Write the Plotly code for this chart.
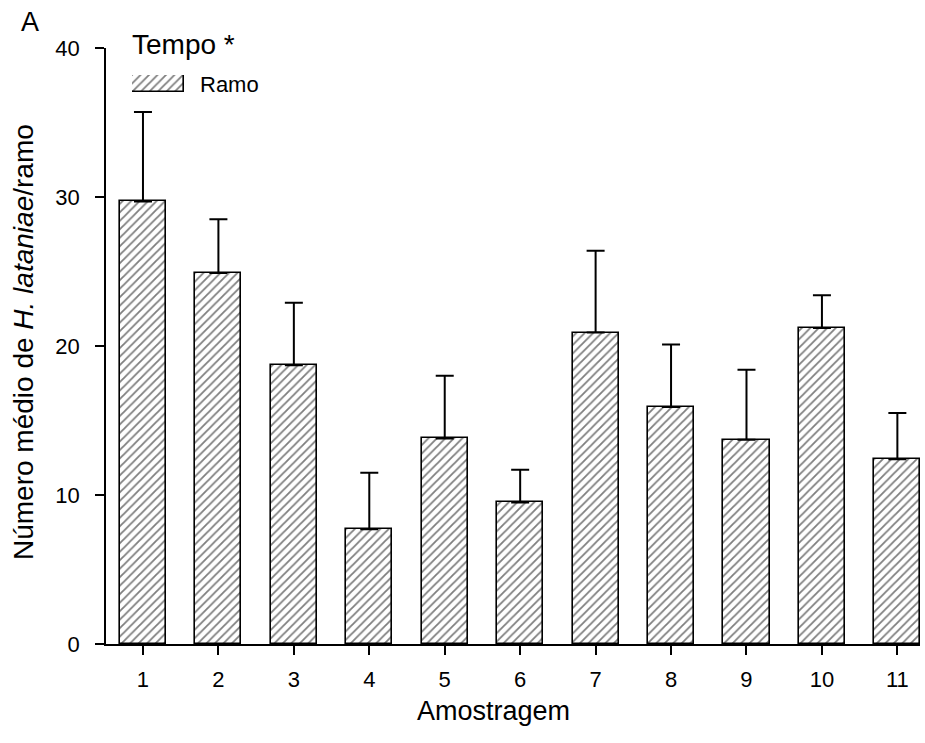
import plotly.graph_objects as go

# Sampling rounds and mean counts (with upper standard error)
amostragem = [1, 2, 3, 4, 5, 6, 7, 8, 9, 10, 11]
media = [29.7, 24.9, 18.7, 7.7, 13.8, 9.5, 20.9, 15.9, 13.7, 21.2, 12.4]
erro = [6.0, 3.6, 4.2, 3.8, 4.2, 2.2, 5.5, 4.2, 4.7, 2.2, 3.1]
y_ticks = [0, 10, 20, 30, 40]

FONT = "Liberation Sans, Arial, sans-serif"
W, H = 925, 743
ML, MR, MT, MB = 106, 5, 48, 99
PW, PH = W - ML - MR, H - MT - MB

hatch = dict(shape="/", fgcolor="black", bgcolor="white", size=6, solidity=0.3)

fig = go.Figure()

fig.add_trace(go.Bar(
    x=amostragem,
    y=media,
    width=0.61,
    marker=dict(color="white", line=dict(color="black", width=1.6), pattern=hatch),
    error_y=dict(type="data", symmetric=False, array=erro,
                 arrayminus=[0] * len(erro), color="black", thickness=2, width=9),
    showlegend=False,
    hoverinfo="x+y",
))

# Legend key swatch drawn on its own small hidden axes
fig.add_trace(go.Bar(
    x=[1], y=[0], orientation="h", width=1,
    marker=dict(color="white", line=dict(color="black", width=1.6), pattern=hatch),
    xaxis="x2", yaxis="y2", showlegend=False, hoverinfo="skip",
))


def px_x(p):
    return (p - ML) / PW


def px_y(p):
    return (H - MB - p) / PH


fig.update_layout(
    width=W, height=H,
    margin=dict(l=ML, r=MR, t=MT, b=MB),
    paper_bgcolor="white", plot_bgcolor="white",
    font=dict(family=FONT, color="black", size=22),
    xaxis=dict(
        range=[0.51, 11.3], tickmode="array", tickvals=amostragem,
        ticktext=[str(v) for v in amostragem],
        showline=True, linecolor="black", linewidth=1.5,
        ticks="outside", ticklen=9, tickwidth=1.5, tickcolor="black",
        ticklabelstandoff=6,
        showgrid=False, zeroline=False,
        tickfont=dict(size=22, family=FONT),
    ),
    yaxis=dict(
        range=[0, 40], tickmode="array", tickvals=y_ticks,
        showline=True, linecolor="black", linewidth=1.5,
        ticks="outside", ticklen=9, tickwidth=1.5, tickcolor="black",
        ticklabelstandoff=11,
        showgrid=False, zeroline=False,
        tickfont=dict(size=22, family=FONT),
    ),
    xaxis2=dict(domain=[px_x(132), px_x(184)], anchor="y2", range=[0, 1],
                visible=False, fixedrange=True),
    yaxis2=dict(domain=[px_y(92), px_y(75)], anchor="x2", range=[-0.5, 0.5],
                visible=False, fixedrange=True),
    bargap=0,
)

annotations = [
    dict(text="A", x=px_x(19), y=px_y(22), xanchor="left", yanchor="middle",
         font=dict(size=27)),
    dict(text="Tempo *", x=px_x(130), y=px_y(45), xanchor="left", yanchor="middle",
         font=dict(size=28)),
    dict(text="Ramo", x=px_x(198), y=px_y(84), xanchor="left", yanchor="middle",
         font=dict(size=22)),
    dict(text="Amostragem", x=px_x(493), y=px_y(711), xanchor="center", yanchor="middle",
         font=dict(size=27)),
    dict(text="Número médio de <i>H. lataniae</i>/ramo", x=px_x(23), y=px_y(342),
         xanchor="center", yanchor="middle", textangle=-90, font=dict(size=28)),
]
for a in annotations:
    a.update(xref="paper", yref="paper", showarrow=False)
fig.update_layout(annotations=annotations)

fig.write_html("out.html")
